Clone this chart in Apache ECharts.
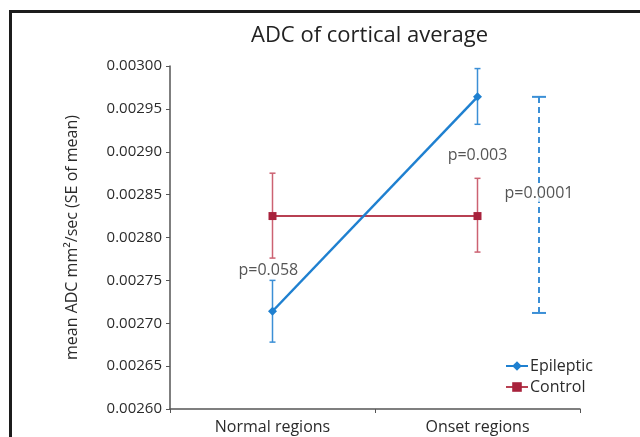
<!DOCTYPE html>
<html>
<head>
<meta charset="utf-8">
<script src="https://cdn.jsdelivr.net/npm/echarts@6/dist/echarts.min.js"></script>
<style>
  html, body { margin: 0; padding: 0; background: #fff; }
  #chart { width: 640px; height: 437px; }
</style>
</head>
<body>
<div id="chart"></div>
<script>
// categories and values
var categories = ['Normal regions', 'Onset regions'];
var epilepticMean = [0.002714, 0.002964];
var epilepticLow  = [0.002678, 0.002932];
var epilepticHigh = [0.002750, 0.002997];
var controlMean = [0.002825, 0.002825];
var controlLow  = [0.002776, 0.002783];
var controlHigh = [0.002875, 0.002869];
// comparison bar between the epileptic means (x in category units)
var compareX = 1.3;
var compareRange = [0.002712, 0.002964];
// p-value annotations: [x, y, text]
var pLabels = [
  [-0.02, 0.002762, 'p=0.058'],
  [1, 0.002896, 'p=0.003'],
  [1.3, 0.002851, 'p=0.0001']
];
var yTicks = { min: 0.0026, max: 0.0030, step: 0.00005 };

var blue = '#1f80d0';
var red = '#a8223c';
var redLight = '#cc6272';
var font = 'Open Sans';
var ink = '#2b2b2b';

var chart = echarts.init(document.getElementById('chart'));

// error bar renderer: value = [x, low, high]
function errorBar(capW, dashed, color, width) {
  return function (params, api) {
    var lo = api.coord([api.value(0), api.value(1)]);
    var hi = api.coord([api.value(0), api.value(2)]);
    var style = { stroke: color, lineWidth: width, lineDash: dashed ? [6, 4] : null };
    return {
      type: 'group',
      children: [
        { type: 'line', shape: { x1: lo[0], y1: lo[1], x2: hi[0], y2: hi[1] }, style: style },
        { type: 'line', shape: { x1: lo[0] - capW, y1: lo[1], x2: lo[0] + capW, y2: lo[1] }, style: { stroke: color, lineWidth: width } },
        { type: 'line', shape: { x1: hi[0] - capW, y1: hi[1], x2: hi[0] + capW, y2: hi[1] }, style: { stroke: color, lineWidth: width } }
      ]
    };
  };
}

function bars(low, high) {
  return low.map(function (v, i) { return [i, v, high[i]]; });
}

chart.setOption({
  animation: false,
  textStyle: { fontFamily: font },
  graphic: [{
    type: 'rect',
    shape: { x: 10.5, y: 11.5, width: 700, height: 500 },
    style: { fill: 'none', stroke: '#1c1c1c', lineWidth: 3 },
    silent: true
  }],
  title: {
    text: 'ADC of cortical average',
    left: 246,
    top: 20,
    textStyle: { fontFamily: font, fontSize: 22, fontWeight: 'normal', color: '#222' }
  },
  legend: {
    orient: 'vertical',
    left: 500,
    top: 353,
    itemGap: 5,
    itemWidth: 22,
    itemHeight: 12,
    data: ['Epileptic', 'Control'],
    textStyle: { fontFamily: font, fontSize: 16, color: ink, padding: [0, 0, 0, -3] }
  },
  grid: { left: 170, right: 60, top: 66, bottom: 28 },
  xAxis: [{
    type: 'category',
    data: categories,
    boundaryGap: true,
    axisLine: { lineStyle: { color: '#555', width: 1.5 } },
    axisTick: { show: true, length: 4, alignWithLabel: false, lineStyle: { color: '#555' } },
    axisLabel: { fontFamily: font, fontSize: 16, color: ink, margin: 10 }
  }, {
    type: 'value',
    min: -0.5,
    max: 1.5,
    show: false
  }],
  yAxis: {
    type: 'value',
    min: yTicks.min,
    max: yTicks.max,
    interval: yTicks.step,
    name: 'mean ADC mm²/sec (SE of mean)',
    nameLocation: 'middle',
    nameGap: 90,
    nameTextStyle: { fontFamily: font, fontSize: 16, color: ink },
    splitLine: { show: false },
    axisLine: { show: true, onZero: false, lineStyle: { color: '#555', width: 1.5 } },
    axisTick: { show: true, length: 4, lineStyle: { color: '#555' } },
    axisLabel: {
      fontFamily: font, fontSize: 15, color: ink, margin: 8,
      formatter: function (v) { return v.toFixed(5); }
    }
  },
  series: [
    {
      name: 'Control-err',
      type: 'custom',
      xAxisIndex: 1,
      renderItem: errorBar(3, false, redLight, 1.5),
      data: bars(controlLow, controlHigh),
      z: 2
    },
    {
      name: 'Epileptic-err',
      type: 'custom',
      xAxisIndex: 1,
      renderItem: errorBar(3, false, '#3b8fd6', 1.5),
      data: bars(epilepticLow, epilepticHigh),
      z: 2
    },
    {
      name: 'Control',
      type: 'line',
      data: controlMean,
      symbol: 'rect',
      symbolSize: 8,
      lineStyle: { color: '#b84052', width: 2 },
      itemStyle: { color: red },
      z: 3
    },
    {
      name: 'Epileptic',
      type: 'line',
      data: epilepticMean,
      symbol: 'diamond',
      symbolSize: 9,
      lineStyle: { color: blue, width: 2.5 },
      itemStyle: { color: blue },
      z: 4
    },
    {
      name: 'compare',
      type: 'custom',
      xAxisIndex: 1,
      renderItem: errorBar(7, true, '#3b8fd6', 2),
      data: [[compareX, compareRange[0], compareRange[1]]],
      z: 2
    },
    {
      name: 'p',
      type: 'scatter',
      xAxisIndex: 1,
      symbolSize: 0,
      data: pLabels.map(function (p) { return [p[0], p[1], p[2]]; }),
      label: {
        show: true,
        position: 'inside',
        formatter: function (p) { return p.value[2]; },
        fontFamily: font,
        fontSize: 16,
        color: ink,
        backgroundColor: '#fff',
        padding: [0, 1]
      },
      z: 5
    }
  ]
});
</script>
</body>
</html>
